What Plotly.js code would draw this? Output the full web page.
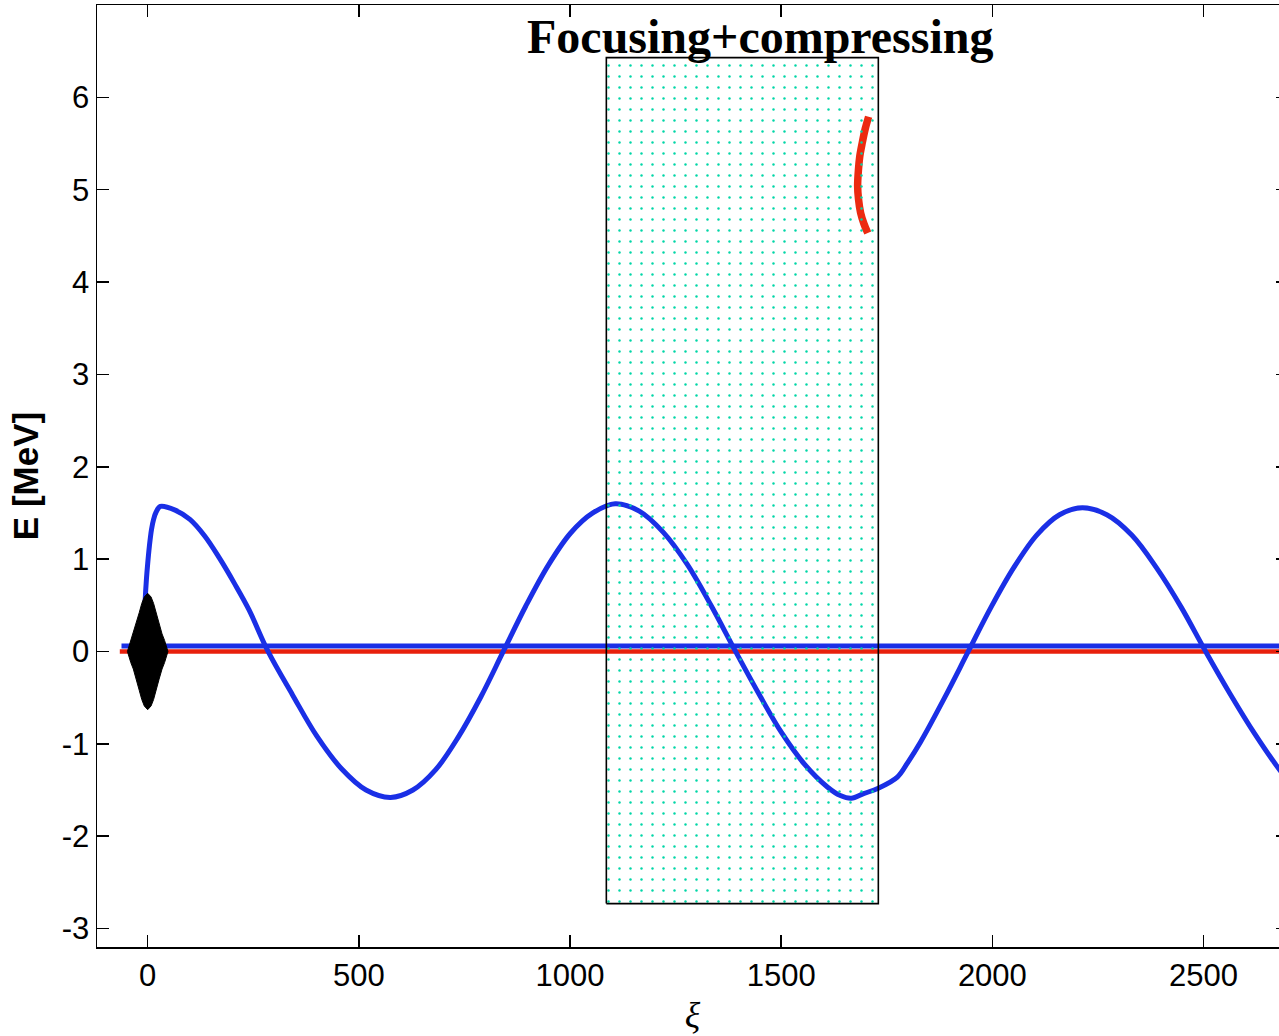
<!DOCTYPE html>
<html>
<head>
<meta charset="utf-8">
<script src="https://cdn.plot.ly/plotly-3.0.1.min.js"></script>
<style>
html, body { margin: 0; padding: 0; overflow: hidden; background: #fff; }
#chart { width: 1290px; height: 1036px; }
</style>
</head>
<body>
<div id="chart"></div>
<script>
// ---- data ----
const xTicks = [0, 500, 1000, 1500, 2000, 2500];
const yTicks = [-3, -2, -1, 0, 1, 2, 3, 4, 5, 6];

// wakefield (blue curve)
const waveX = [-10, -6, -3, 0, 4, 9, 14, 20, 30, 65, 100, 135, 170, 205, 240, 285,
  343, 401, 459, 517, 575, 628, 682, 735, 789, 842, 895, 948, 1001, 1054, 1107,
  1164, 1221, 1278, 1335, 1392, 1446, 1501, 1555, 1610, 1640, 1666, 1695, 1730,
  1775, 1800, 1830, 1887, 1943, 1997, 2051, 2105, 2159, 2213, 2271, 2330, 2388, 2447,
  2505, 2563, 2621, 2680, 2700];
const waveE = [0.02, 0.55, 0.78, 0.95, 1.14, 1.32, 1.43, 1.51, 1.57, 1.53, 1.43, 1.25, 1.01, 0.74, 0.45, 0.0,
  -0.47, -0.92, -1.27, -1.50, -1.58, -1.50, -1.28, -0.93, -0.49, 0.0, 0.49, 0.93, 1.28, 1.50, 1.60,
  1.52, 1.29, 0.94, 0.49, 0.0, -0.45, -0.88, -1.22, -1.47, -1.56, -1.59, -1.54, -1.48,
  -1.36, -1.20, -0.98, -0.50, 0.0, 0.48, 0.91, 1.26, 1.48, 1.555, 1.48, 1.26, 0.91, 0.48,
  0.0, -0.46, -0.89, -1.28, -1.39];

// background particles (flat lines)
const blueBeamX = [-62, 2700];
const blueBeamE = [0.06, 0.06];
const redBeamX = [-66, 2700];
const redBeamE = [0.0, 0.0];

// laser pulse envelope (black)
const pulseX = [-48, -40, -34, -27, -20, -14, -8, 0, 8, 14, 20, 27, 34, 40, 48,
  40, 34, 27, 20, 14, 8, 0, -8, -14, -20, -27, -34, -40, -48];
const pulseE = [0.0, 0.12, 0.19, 0.30, 0.42, 0.52, 0.59, 0.63, 0.59, 0.52, 0.42, 0.30, 0.19, 0.12, 0.0,
  -0.12, -0.19, -0.30, -0.42, -0.52, -0.59, -0.63, -0.59, -0.52, -0.42, -0.30, -0.19, -0.12, 0.0];

// accelerated bunch (red arc)
const bunchX = [1707, 1699, 1692, 1686, 1683, 1681, 1683, 1688, 1696, 1705];
const bunchE = [5.79, 5.66, 5.51, 5.36, 5.22, 5.04, 4.90, 4.75, 4.63, 4.53];

// focusing + compressing region
const regionX = [1086, 1730, 1730, 1086, 1086];
const regionE = [-2.73, -2.73, 6.43, 6.43, -2.73];
const regionLabel = 'Focusing+compressing';
const regionLabelX = 1452;
const regionLabelE = 6.66;

const traces = [
  { x: redBeamX, y: redBeamE, mode: 'lines', line: { color: '#e8200c', width: 4.5 }, hoverinfo: 'skip' },
  { x: blueBeamX, y: blueBeamE, mode: 'lines', line: { color: '#1a2fe6', width: 5 }, hoverinfo: 'skip' },
  { x: waveX, y: waveE, mode: 'lines', line: { color: '#1a2fe6', width: 5, shape: 'spline', smoothing: 1 } },
  { x: pulseX, y: pulseE, mode: 'lines', fill: 'toself', fillcolor: '#000000', line: { color: '#000000', width: 1 } },
  { x: bunchX, y: bunchE, mode: 'lines', line: { color: '#ec2a10', width: 7.5, shape: 'spline', smoothing: 1 } },
  { x: regionX, y: regionE, mode: 'lines', fill: 'toself', fillcolor: 'rgba(0,0,0,0)',
    fillpattern: { shape: '.', fgcolor: '#00d6a6', bgcolor: 'rgba(0,0,0,0)', size: 11, solidity: 0.04 },
    line: { color: '#000000', width: 1.6 } }
];

const axisCommon = {
  showline: true, linecolor: '#000', linewidth: 1.5, mirror: 'ticks',
  ticks: 'inside', ticklen: 12, tickwidth: 1.5, tickcolor: '#000',
  showgrid: false, zeroline: false,
  tickfont: { family: 'Liberation Sans, Arial, sans-serif', size: 31, color: '#000' }
};

const layout = {
  width: 1290, height: 1036,
  margin: { l: 97, r: 2, t: 5, b: 89 },
  paper_bgcolor: '#fff', plot_bgcolor: '#fff',
  showlegend: false,
  xaxis: Object.assign({}, axisCommon, {
    range: [-120, 2700], tickvals: xTicks, ticktext: xTicks.map(String),
    title: { text: '<i>ξ</i>', font: { family: 'Liberation Serif, Times New Roman, serif', size: 36, color: '#000' }, standoff: 10 }
  }),
  yaxis: Object.assign({}, axisCommon, {
    range: [-3.2, 7], tickvals: yTicks, ticktext: yTicks.map(String),
    title: { text: '<b>E [MeV]</b>', font: { family: 'Liberation Sans, Arial, sans-serif', size: 35, color: '#000' }, standoff: 12 }
  }),
  annotations: [{
    x: regionLabelX, y: regionLabelE, xref: 'x', yref: 'y',
    text: '<b>' + regionLabel + '</b>', showarrow: false,
    font: { family: 'Liberation Serif, Times New Roman, serif', size: 48, color: '#000' },
    xanchor: 'center', yanchor: 'middle'
  }]
};

Plotly.newPlot('chart', traces, layout, { staticPlot: true, displayModeBar: false });
</script>
</body>
</html>
